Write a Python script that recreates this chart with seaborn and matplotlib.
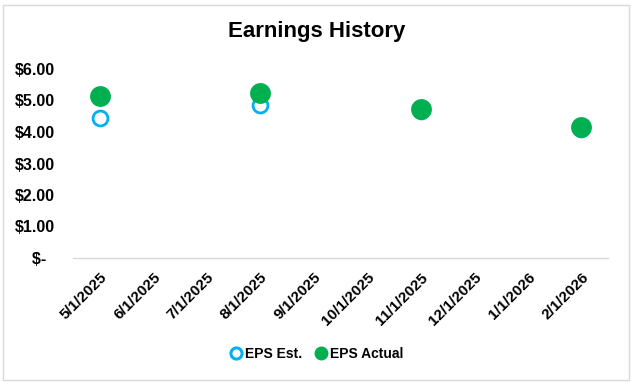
import matplotlib
matplotlib.use("Agg")
import matplotlib.pyplot as plt
import matplotlib.patches as mpatches
from matplotlib.lines import Line2D
import pandas as pd
import seaborn as sns

# month slots on the date axis
months = ["5/1/2025", "6/1/2025", "7/1/2025", "8/1/2025", "9/1/2025",
          "10/1/2025", "11/1/2025", "12/1/2025", "1/1/2026", "2/1/2026"]
report_dates = ["5/1/2025", "8/1/2025", "11/1/2025", "2/1/2026"]
eps_est = [4.45, 4.86, 4.67, 4.10]
eps_actual = [5.14, 5.23, 4.72, 4.15]
y_ticks = [0, 1, 2, 3, 4, 5, 6]

df = pd.DataFrame({
    "date": report_dates,
    "pos": [months.index(d) for d in report_dates],
    "EPS Est.": eps_est,
    "EPS Actual": eps_actual,
})

sns.set_style("white")
plt.rcParams["font.family"] = ["Liberation Sans", "DejaVu Sans"]
plt.rcParams["text.color"] = "black"

fig = plt.figure(figsize=(6.34, 3.86), dpi=100)
ax = fig.add_axes([73 / 634, 1 - 258 / 386, 535 / 634, 189 / 386])

blue = "#00B0F0"
green = "#00B050"

sns.scatterplot(data=df, x="pos", y="EPS Est.", ax=ax, s=115, marker="o",
                facecolor="white", edgecolor=blue, linewidth=2.0, zorder=3)
sns.scatterplot(data=df, x="pos", y="EPS Actual", ax=ax, s=225, marker="o",
                color=green, edgecolor=green, linewidth=0, zorder=4)

ax.set_xlim(-0.5, len(months) - 0.5)
ax.set_ylim(0, 6)
ax.set_xticks(range(len(months)))
ax.set_xticklabels(months, rotation=45, ha="right", rotation_mode="anchor",
                   fontsize=11, fontweight="bold")
ax.set_xticks([i - 0.5 for i in range(len(months) + 1)], minor=True)
ax.tick_params(axis="x", which="major", length=0, pad=9, labelcolor="black")
ax.tick_params(axis="x", which="minor", length=4, color="#D9D9D9", width=1)
ax.set_yticks(y_ticks)
ax.set_yticklabels(["$-  " if v == 0 else f"${v:.2f}" for v in y_ticks],
                   fontsize=11.5, fontweight="bold")
ax.tick_params(axis="y", length=0, pad=13, labelcolor="black")
ax.set_xlabel("")
ax.set_ylabel("")
for side in ["top", "right", "left"]:
    ax.spines[side].set_visible(False)
ax.spines["bottom"].set_color("#D9D9D9")
ax.spines["bottom"].set_linewidth(1)

fig.text(0.5, 1 - 32 / 386, "Earnings History", ha="center", va="center",
         fontsize=16, fontweight="bold", color="black")

handles = [
    Line2D([], [], marker="o", linestyle="", markersize=8, markerfacecolor="white",
           markeredgecolor=blue, markeredgewidth=2.2, label="EPS Est."),
    Line2D([], [], marker="o", linestyle="", markersize=9, markerfacecolor=green,
           markeredgecolor=green, label="EPS Actual"),
]
fig.legend(handles=handles, loc="center", bbox_to_anchor=(0.5, 1 - 354 / 386),
           ncol=2, frameon=False, handlelength=0.8, handletextpad=0.2,
           columnspacing=1.0, labelcolor="black",
           prop={"weight": "bold", "size": 10})

fig.patches.append(mpatches.Rectangle((3 / 634, 6 / 386), 626 / 634, 375 / 386,
                                      transform=fig.transFigure, fill=False,
                                      edgecolor="#D9D9D9", linewidth=1))

fig.savefig("out.png", dpi=100)
